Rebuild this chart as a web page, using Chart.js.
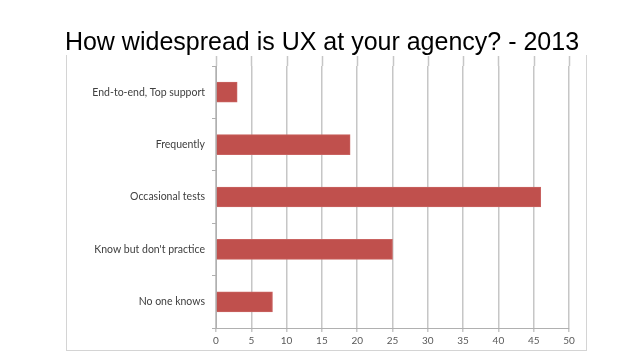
<!DOCTYPE html>
<html>
<head>
<meta charset="utf-8">
<script src="https://cdn.jsdelivr.net/npm/chart.js@4"></script>
<style>
  html, body { margin: 0; padding: 0; background: #fff; }
  #wrap { position: relative; width: 638px; height: 359px; }
  #title {
    position: absolute; left: 3px; top: 29px; width: 638px; text-align: center;
    font: 25px/25px "Liberation Sans", Arial, sans-serif; color: #000; white-space: nowrap;
  }
  #frame {
    position: absolute; left: 66px; top: 55px; width: 519px; height: 295px;
    border-left: 1px solid #d4d4d4; border-right: 1px solid #d4d4d4; border-bottom: 1px solid #d4d4d4;
    pointer-events: none;
  }
</style>
</head>
<body>
<div id="wrap">
  <canvas id="barChart" width="638" height="359"></canvas>
  <div id="title">How widespread is UX at your agency? - 2013</div>
  <div id="frame"></div>
</div>
<script>
const categories = ["End-to-end, Top support", "Frequently", "Occasional tests", "Know but don't practice", "No one knows"];
const values = [3, 19, 46, 25, 8];
const xTicks = [0, 5, 10, 15, 20, 25, 30, 35, 40, 45, 50];

// gridlines run a little above the plot area in the original
const gridAbove = {
  id: "gridAbove",
  beforeDatasetsDraw(chart) {
    const { ctx, chartArea, scales } = chart;
    ctx.save();
    ctx.strokeStyle = "#c6c6c6";
    ctx.lineWidth = 1.5;
    xTicks.forEach(v => {
      const x = Math.round(scales.x.getPixelForValue(v)) + 0.5;
      ctx.beginPath();
      ctx.moveTo(x, chartArea.top - 10);
      ctx.lineTo(x, chartArea.top);
      ctx.stroke();
    });
    ctx.restore();
  }
};

const barCtx = document.getElementById("barChart").getContext("2d");
new Chart(barCtx, {
  type: "bar",
  data: {
    labels: categories,
    datasets: [{
      data: values,
      backgroundColor: "#c0504d",
      borderColor: "#c96361",
      borderWidth: 1,
      barThickness: 20
    }]
  },
  options: {
    indexAxis: "y",
    responsive: false,
    animation: false,
    layout: { padding: { left: 0, right: 69, bottom: 11, top: 66 } },
    plugins: {
      legend: { display: false },
      tooltip: { enabled: false },
      title: { display: false }
    },
    scales: {
      x: {
        min: 0,
        max: 50,
        afterBuildTicks(scale) { scale.ticks = xTicks.map(v => ({ value: v })); },
        afterFit(scale) { scale.height = 20; },
        grid: { color: "#c6c6c6", lineWidth: 1.5, tickLength: 4 },
        border: { color: "#b0b0b0", width: 1 },
        ticks: { color: "#595959", padding: 3, font: { family: "Lato", size: 10 } }
      },
      y: {
        afterFit(scale) { scale.width = 216; },
        grid: { drawOnChartArea: false, offset: true, tickLength: 4, color: "#b0b0b0" },
        border: { color: "#b0b0b0", width: 1 },
        ticks: { color: "#404040", padding: 7, font: { family: "Lato", size: 10.5 } }
      }
    }
  },
  plugins: [gridAbove]
});
</script>
</body>
</html>
